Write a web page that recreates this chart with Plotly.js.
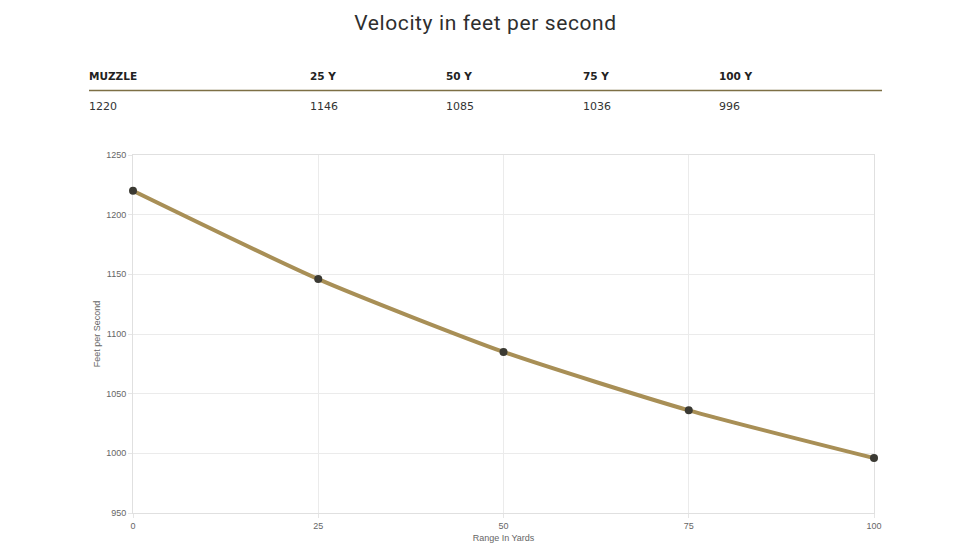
<!DOCTYPE html>
<html>
<head>
<meta charset="utf-8">
<script src="https://cdn.plot.ly/plotly-3.0.1.min.js"></script>
<style>html,body{margin:0;padding:0;background:#fff;}#chart{width:978px;height:550px;}</style>
</head>
<body>
<div id="chart"></div>
<script>
const rangeYards = [0, 25, 50, 75, 100];
const velocity = [1220, 1146, 1085, 1036, 996];
const headerLabels = ['MUZZLE', '25 Y', '50 Y', '75 Y', '100 Y'];
const valueLabels = ['1220', '1146', '1085', '1036', '996'];

const W = 978, H = 550;
const margin = {l: 133, r: 104, t: 155, b: 37};
const pw = W - margin.l - margin.r, ph = H - margin.t - margin.b;
const px = x => (x - margin.l) / pw;
const py = y => (H - margin.b - y) / ph;

const colX = [87, 308, 444, 581, 717];
const annotations = [];
headerLabels.forEach((t, i) => {
  annotations.push({xref: 'paper', yref: 'paper', x: px(colX[i]), y: py(76), text: '<b>' + t + '</b>',
    showarrow: false, xanchor: 'left', yanchor: 'middle',
    font: {family: 'DejaVu Sans', size: 10.5, color: '#222'}});
});
valueLabels.forEach((t, i) => {
  annotations.push({xref: 'paper', yref: 'paper', x: px(colX[i]), y: py(107), text: t,
    showarrow: false, xanchor: 'left', yanchor: 'middle',
    font: {family: 'DejaVu Sans', size: 11, color: '#333'}});
});

const trace = {
  x: rangeYards, y: velocity, type: 'scatter', mode: 'lines+markers',
  line: {color: '#a88f56', width: 4, shape: 'spline', smoothing: 0.6},
  marker: {color: '#3b3a33', size: 8},
  cliponaxis: false,
  hoverinfo: 'x+y'
};

const axisCommon = {
  showgrid: true, gridcolor: '#ebebeb', gridwidth: 1,
  showline: true, linecolor: '#e0e0e0', linewidth: 1, mirror: true,
  layer: 'below traces',
  zeroline: false, ticks: 'outside', ticklen: 4, tickcolor: '#e5e5e5',
  tickfont: {family: 'Liberation Sans, Arial', size: 9, color: '#666'}
};

const layout = {
  width: W, height: H, margin: margin,
  paper_bgcolor: '#fff', plot_bgcolor: '#fff',
  showlegend: false,
  title: {text: 'Velocity in feet per second', x: 485.5 / W, xref: 'container', y: 1 - 23 / H, yanchor: 'middle',
    font: {family: 'Roboto', size: 21, color: '#2e2e2e'}},
  xaxis: Object.assign({}, axisCommon, {range: [0, 100], tickvals: rangeYards,
    title: {text: 'Range In Yards', standoff: 4, font: {family: 'Liberation Sans, Arial', size: 9, color: '#666'}}}),
  yaxis: Object.assign({}, axisCommon, {range: [950, 1250], dtick: 50,
    title: {text: 'Feet per Second', standoff: 4, font: {family: 'Liberation Sans, Arial', size: 9, color: '#666'}}}),
  annotations: annotations,
  shapes: [{type: 'line', xref: 'paper', yref: 'paper', x0: px(89), x1: px(882), y0: py(90.5), y1: py(90.5),
    line: {color: '#7d6f45', width: 1.5}}]
};

Plotly.newPlot('chart', [trace], layout, {displayModeBar: false, responsive: false}).then(() => {
  const t = document.querySelector('.gtitle');
  if (t) t.style.letterSpacing = '0.6px';
});
</script>
</body>
</html>
